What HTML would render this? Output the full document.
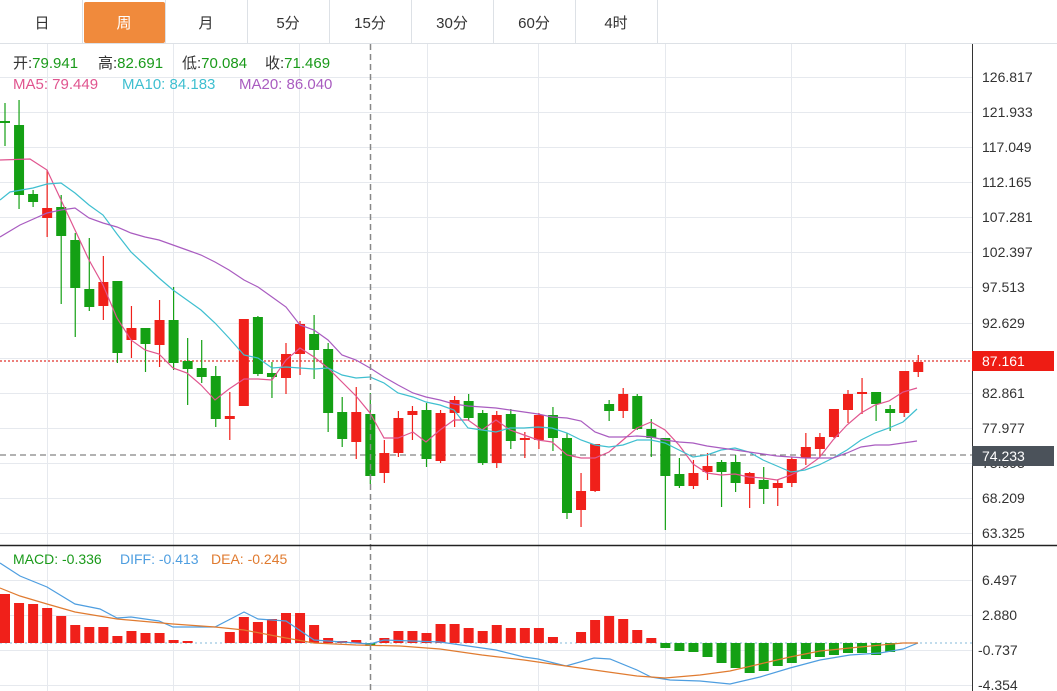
<!DOCTYPE html>
<html><head><meta charset="utf-8">
<style>
body{margin:0;width:1057px;height:691px;overflow:hidden;background:#fff;font-family:"Liberation Sans","Noto Sans CJK SC",sans-serif;}
svg{position:absolute;left:0;top:0}
</style></head><body>
<svg id="s" width="1057" height="691" xmlns="http://www.w3.org/2000/svg" font-family="Liberation Sans, Noto Sans CJK SC, sans-serif">
<g id="grid" stroke="#e6e9ee" stroke-width="1"></g>
<!-- tabs -->
<line x1="0" y1="43.5" x2="1057" y2="43.5" stroke="#dde1e6"/>
<rect x="84" y="2" width="81" height="41" rx="2" fill="#f08a3c"/>
<g stroke="#dde1e6"><line x1="82.5" y1="0" x2="82.5" y2="43"/><line x1="165.5" y1="0" x2="165.5" y2="43"/><line x1="247.5" y1="0" x2="247.5" y2="43"/><line x1="329.5" y1="0" x2="329.5" y2="43"/><line x1="411.5" y1="0" x2="411.5" y2="43"/><line x1="493.5" y1="0" x2="493.5" y2="43"/><line x1="575.5" y1="0" x2="575.5" y2="43"/><line x1="657.5" y1="0" x2="657.5" y2="43"/></g>
<g font-size="15" fill="#333" text-anchor="middle">
<text x="42" y="28">日</text><text x="124" y="28" fill="#fff">周</text><text x="206" y="28">月</text><text x="288" y="28">5分</text><text x="370" y="28">15分</text><text x="452" y="28">30分</text><text x="534" y="28">60分</text><text x="616" y="28">4时</text></g>
<g id="plot"></g>
<!-- price labels -->
<line x1="972.5" y1="44" x2="972.5" y2="691" stroke="#333"/>
<line x1="0" y1="545.5" x2="1057" y2="545.5" stroke="#222" stroke-width="1.5"/>
<g font-size="14" fill="#333">
<text x="982" y="82">126.817</text><text x="982" y="117">121.933</text><text x="982" y="152">117.049</text><text x="982" y="187">112.165</text><text x="982" y="222">107.281</text><text x="982" y="257">102.397</text><text x="982" y="292">97.513</text><text x="982" y="328">92.629</text><text x="982" y="398">82.861</text><text x="982" y="433">77.977</text><text x="982" y="468">73.093</text><text x="982" y="503">68.209</text><text x="982" y="538">63.325</text>
<text x="982" y="585">6.497</text><text x="982" y="620">2.880</text><text x="978" y="655">-0.737</text><text x="978" y="690">-4.354</text></g>
<rect x="972" y="351" width="82" height="20" fill="#ee1c14"/>
<text x="982" y="366" font-size="14" fill="#fff">87.161</text>
<rect x="972" y="446" width="82" height="20" fill="#4b525a"/>
<text x="982" y="461" font-size="14" fill="#fff">74.233</text>
<g font-size="15">
<text x="13" y="68" fill="#333">开:<tspan fill="#1a9a1a">79.941</tspan></text>
<text x="98" y="68" fill="#333">高:<tspan fill="#1a9a1a">82.691</tspan></text>
<text x="182" y="68" fill="#333">低:<tspan fill="#1a9a1a">70.084</tspan></text>
<text x="265" y="68" fill="#333">收:<tspan fill="#1a9a1a">71.469</tspan></text>
<text x="13" y="89" fill="#e0558f">MA5: 79.449</text>
<text x="122" y="89" fill="#3fbfd0">MA10: 84.183</text>
<text x="239" y="89" fill="#a95cc0">MA20: 86.040</text>
</g>
<g font-size="14">
<text x="13" y="564" fill="#1a9a1a">MACD: -0.336</text>
<text x="120" y="564" fill="#4e9ee0">DIFF: -0.413</text>
<text x="211" y="564" fill="#e07b30">DEA: -0.245</text>
</g>
</svg>
<script>
var NS="http://www.w3.org/2000/svg",g=document.getElementById('grid'),p=document.getElementById('plot');
function el(par,t,a){var e=document.createElementNS(NS,t);for(var k in a)e.setAttribute(k,a[k]);par.appendChild(e);return e;}
[77,112,147,182,217,252,287,323,358,393,428,463,498,533,580,615,650,685].forEach(function(y){el(g,'line',{x1:0,x2:972,y1:y+.5,y2:y+.5});});
[47,173,299,427,538,665,791,905].forEach(function(x){el(g,'line',{x1:x+.5,x2:x+.5,y1:44,y2:691});});
var R="#f0201a",G="#14a014";
var C=[[121,123,103,146,G],[125,195,100,209,G],[194,202,190,207,G],[208,218,170,237,R],[207,236,195,304,G],[240,288,233,337,G],[289,307,238,311,G],[282,306,256,320,R],[281,353,281,363,G],[328,340,306,358,R],[328,344,328,372,G],[320,345,300,367,R],[320,363,287,370,G],[361,369,338,405,G],[368,377,340,383,G],[376,419,366,427,G],[416,419,392,440,R],[319,406,319,406,R],[317,374,316,376,G],[373,377,362,398,G],[354,378,343,394,R],[324,354,321,375,R],[334,350,315,379,G],[349,413,343,432,G],[412,439,397,447,G],[412,442,387,459,R],[414,476,393,484,G],[453,473,440,483,R],[418,453,411,457,R],[411,415,406,440,R],[410,459,403,467,G],[413,461,410,463,R],[400,413,396,427,R],[401,418,394,421,G],[413,463,410,465,G],[415,463,411,468,R],[414,441,409,449,G],[438,440,432,458,R],[415,440,413,449,R],[415,438,407,451,G],[438,513,433,519,G],[491,510,473,527,R],[444,491,444,492,R],[404,411,400,421,G],[394,411,388,418,R],[396,429,394,430,G],[429,438,419,457,G],[438,476,438,530,G],[474,486,458,488,G],[473,486,460,489,R],[466,472,453,480,R],[462,472,460,507,G],[462,483,455,492,G],[473,484,472,508,R],[480,489,467,504,G],[483,488,480,506,R],[459,483,457,487,R],[447,458,433,465,R],[437,449,433,457,R],[409,437,409,438,R],[394,410,390,423,R],[392,394,378,414,R],[392,404,392,421,G],[409,413,405,431,G],[371,413,371,417,R],[362,372,355,377,R]];
function X(i){return 5+14.05*i;}
function line(pts,c,w,dash){el(p,'polyline',{points:pts.map(function(a){return a.join(',')}).join(' '),fill:'none',stroke:c,'stroke-width':w||1.2,'stroke-dasharray':dash||''});}
line([[0,361],[972,361]],"#e0302a",1.2,"2,2");
line([[0,455],[972,455]],"#666",1,"6,4");
line([[0,643],[972,643]],"#9cc8e0",1.2,"2,3");
C.forEach(function(c,i){var x=X(i);el(p,'line',{x1:x,x2:x,y1:c[2],y2:c[3],stroke:c[4],'stroke-width':1.2});el(p,'rect',{x:x-5,y:c[0],width:10,height:Math.max(2,c[1]-c[0]),fill:c[4]});});
line([[0,160],[30,159],[47,170],[61,200],[75,230],[89,260],[103,285],[117,318],[131,340],[145,350],[159,354],[173,368],[187,373],[201,385],[215,400],[229,389],[244,379],[258,379],[272,380],[286,360],[300,348],[314,357],[328,368],[342,382],[356,396],[370,413],[384,438],[398,438],[413,432],[426,442],[440,430],[454,420],[468,420],[482,430],[496,420],[510,430],[524,435],[538,440],[552,442],[567,455],[581,458],[595,458],[609,452],[623,440],[637,428],[651,422],[665,430],[679,445],[693,464],[707,473],[721,475],[735,474],[749,477],[763,478],[777,480],[791,475],[805,468],[819,458],[833,440],[847,425],[861,413],[875,405],[889,401],[903,392],[917,388]],"#e0558f");
line([[0,200],[10,192],[33,188],[47,184],[61,183],[75,193],[89,205],[103,215],[117,234],[131,252],[145,265],[159,278],[173,290],[187,300],[201,310],[215,323],[229,338],[244,355],[258,358],[272,368],[286,367],[300,368],[314,369],[328,368],[342,375],[356,378],[370,377],[384,383],[398,393],[413,397],[426,402],[440,405],[454,410],[468,428],[482,430],[496,432],[510,428],[524,428],[538,427],[552,428],[567,433],[581,440],[595,445],[609,447],[623,445],[637,440],[651,440],[665,443],[679,450],[693,457],[707,455],[721,450],[735,448],[749,452],[763,460],[777,466],[791,472],[805,470],[819,465],[833,458],[847,450],[861,440],[875,433],[889,428],[903,422],[917,409]],"#3fbfd0");
line([[0,237],[20,225],[47,213],[61,210],[75,208],[89,218],[103,223],[117,227],[131,233],[145,237],[159,240],[173,245],[187,250],[201,255],[215,262],[229,270],[244,280],[258,287],[272,297],[286,307],[300,325],[314,330],[328,340],[342,355],[356,360],[370,368],[384,377],[398,385],[413,393],[426,397],[440,400],[454,404],[468,406],[482,407],[496,408],[510,410],[524,412],[538,414],[552,417],[567,418],[581,421],[595,432],[609,437],[623,437],[637,436],[651,437],[665,440],[679,442],[693,443],[707,446],[721,448],[735,450],[749,452],[763,454],[777,456],[791,457],[805,458],[819,458],[833,458],[847,453],[861,447],[875,445],[889,445],[903,443],[917,441]],"#a95cc0");
var H=[594,603,604,608,616,625,627,627,636,631,633,633,640,641,643,643,632,617,622,619,613,613,625,638,641,640,646,638,631,631,633,624,624,628,631,625,628,628,628,637,643,632,620,616,619,630,638,648,651,652,657,663,668,673,671,666,663,659,657,655,653,653,655,652,643,643];
H.forEach(function(t,i){if(Math.abs(t-643)<1)return;var x=X(i);var y0=Math.min(t,643),h=Math.abs(t-643);el(p,'rect',{x:x-5,y:y0,width:10,height:h,fill:t<643?R:G});});
line([[0,563],[20,576],[47,587],[75,604],[100,609],[117,618],[131,617],[159,621],[173,627],[215,627],[244,612],[258,619],[286,621],[314,640],[328,641],[356,643],[370,644],[384,640],[412,641],[440,642],[468,646],[496,650],[524,657],[538,659],[566,666],[594,658],[610,659],[637,670],[651,677],[670,680],[700,681],[730,684],[760,677],[790,668],[820,660],[850,655],[880,653],[903,649],[918,643]],"#4e9ee0");
line([[0,588],[20,596],[47,604],[75,612],[117,619],[173,624],[215,627],[244,630],[286,638],[314,643],[356,645],[400,646],[440,649],[482,655],[524,660],[566,666],[594,670],[637,676],[665,678],[700,675],[730,671],[760,664],[790,657],[820,651],[860,647],[903,643],[918,643]],"#e07b30");
line([[370.5,44],[370.5,691]],"#888",1.5,"6,4");
</script>
</body></html>
